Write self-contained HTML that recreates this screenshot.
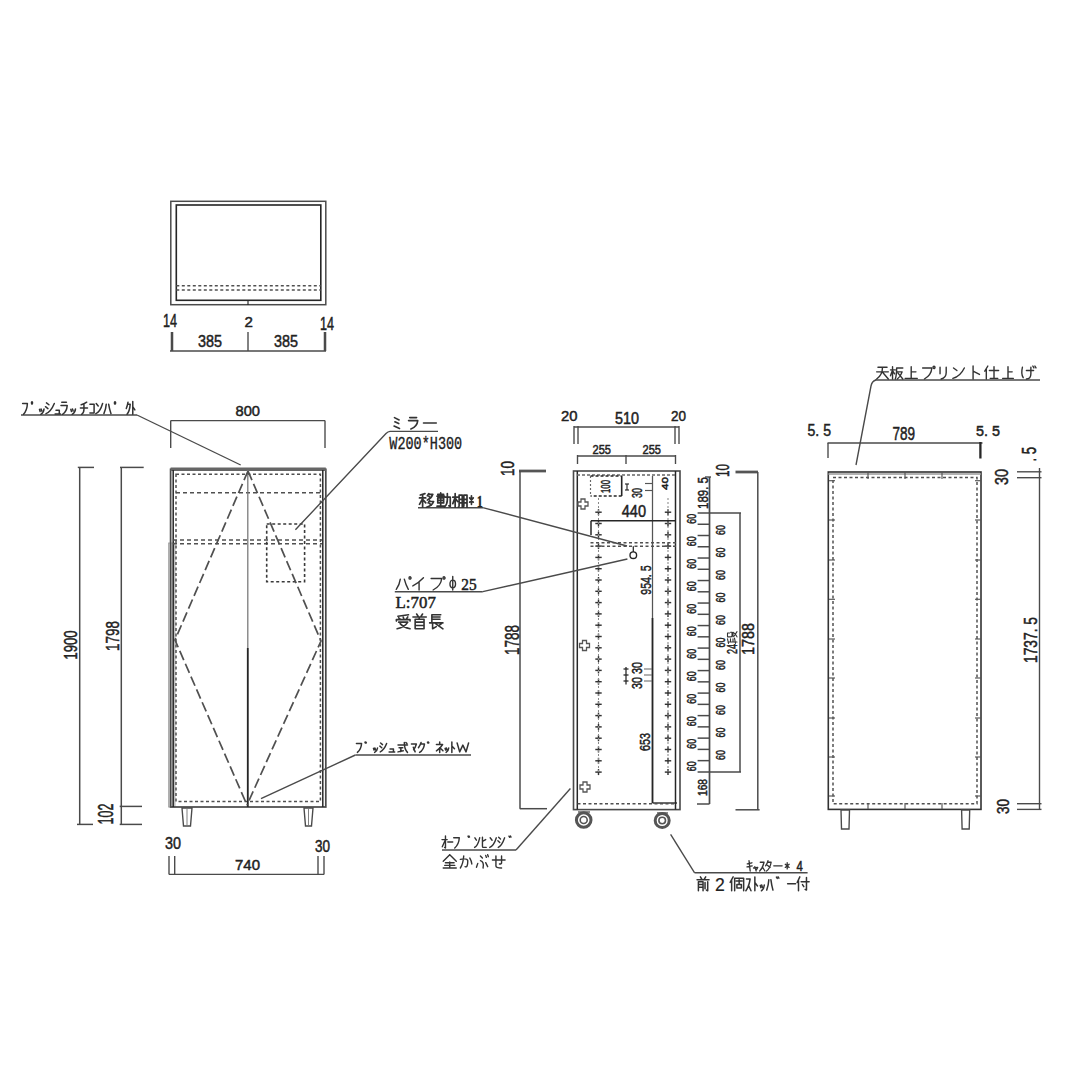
<!DOCTYPE html>
<html><head><meta charset="utf-8"><style>
html,body{margin:0;padding:0;background:#fff;}
svg{display:block;}
</style></head><body>
<svg width="1080" height="1080" viewBox="0 0 1080 1080">
<rect width="1080" height="1080" fill="#fff"/>
<rect x="170.8" y="201.3" width="155.00" height="103.40" stroke="#4a4a4a" stroke-width="1.49" fill="none"/>
<rect x="176.3" y="205" width="144.50" height="95.30" stroke="#262626" stroke-width="1.61" fill="none"/>
<line x1="176.30" y1="285.80" x2="320.80" y2="285.80" stroke="#505050" stroke-width="1.49" stroke-dasharray="3,2.5"/>
<line x1="176.30" y1="290.00" x2="320.80" y2="290.00" stroke="#505050" stroke-width="1.49" stroke-dasharray="3,2.5"/>
<line x1="248.00" y1="300.30" x2="248.00" y2="305.00" stroke="#262626" stroke-width="1.15"/>
<text x="163" y="327" font-family="Liberation Sans" font-size="18.16" font-weight="normal" fill="#222" stroke="#222" stroke-width="0.5" textLength="14.00" lengthAdjust="spacingAndGlyphs">14</text>
<text x="244.4" y="327" font-family="Liberation Sans" font-size="15.36" font-weight="normal" fill="#222" stroke="#222" stroke-width="0.5" textLength="8.40" lengthAdjust="spacingAndGlyphs">2</text>
<text x="320" y="330" font-family="Liberation Sans" font-size="18.16" font-weight="normal" fill="#222" stroke="#222" stroke-width="0.5" textLength="14.00" lengthAdjust="spacingAndGlyphs">14</text>
<text x="198" y="347" font-family="Liberation Sans" font-size="16.76" font-weight="normal" fill="#222" stroke="#222" stroke-width="0.5" textLength="24.00" lengthAdjust="spacingAndGlyphs">385</text>
<text x="274" y="347" font-family="Liberation Sans" font-size="16.76" font-weight="normal" fill="#222" stroke="#222" stroke-width="0.5" textLength="24.00" lengthAdjust="spacingAndGlyphs">385</text>
<line x1="170.00" y1="351.00" x2="326.00" y2="351.00" stroke="#4a4a4a" stroke-width="1.38"/>
<line x1="172.00" y1="332.00" x2="172.00" y2="351.00" stroke="#4a4a4a" stroke-width="2.53"/>
<line x1="248.00" y1="332.00" x2="248.00" y2="351.00" stroke="#4a4a4a" stroke-width="1.38"/>
<line x1="325.00" y1="332.00" x2="325.00" y2="351.00" stroke="#4a4a4a" stroke-width="2.53"/>
<rect x="168.5" y="543" width="6.50" height="264.00" stroke="#aaa" stroke-width="0.92" fill="#d4d4d4"/>
<rect x="170.6" y="469.3" width="155.20" height="337.70" stroke="#4a4a4a" stroke-width="1.72" fill="none"/>
<line x1="170.60" y1="469.30" x2="325.80" y2="469.30" stroke="#666" stroke-width="3.45"/>
<line x1="173.20" y1="470.00" x2="173.20" y2="807.00" stroke="#262626" stroke-width="1.49"/>
<line x1="322.80" y1="470.00" x2="322.80" y2="807.00" stroke="#262626" stroke-width="1.49"/>
<rect x="176" y="474.3" width="144.40" height="327.20" stroke="#505050" stroke-width="1.49" fill="none" stroke-dasharray="3,2.5"/>
<line x1="176.00" y1="492.80" x2="320.40" y2="492.80" stroke="#505050" stroke-width="1.49" stroke-dasharray="4,3"/>
<line x1="173.00" y1="540.00" x2="322.00" y2="540.00" stroke="#505050" stroke-width="1.49" stroke-dasharray="4,3"/>
<line x1="173.00" y1="543.70" x2="322.00" y2="543.70" stroke="#505050" stroke-width="1.49" stroke-dasharray="4,3"/>
<line x1="247.80" y1="470.00" x2="247.80" y2="648.00" stroke="#777" stroke-width="1.26"/>
<line x1="247.80" y1="648.00" x2="247.80" y2="807.00" stroke="#262626" stroke-width="1.84"/>
<rect x="266.7" y="524" width="37.90" height="57.70" stroke="#3a3a3a" stroke-width="1.61" fill="none" stroke-dasharray="3,2.5"/>
<path d="M248,471 L175,640 L247,805 M248,471 L321,641 L247,805" stroke="#505050" stroke-width="1.72" fill="none" stroke-dasharray="10,4"/>
<path d="M182,808 L192,808 L190.5,826 L183.5,826 Z" stroke="#4a4a4a" stroke-width="1.38" fill="#fff"/>
<line x1="187.00" y1="809.00" x2="187.00" y2="825.00" stroke="#777" stroke-width="0.92"/>
<path d="M304,808 L313,808 L311.5,826 L305.5,826 Z" stroke="#4a4a4a" stroke-width="1.38" fill="#fff"/>
<line x1="308.50" y1="809.00" x2="308.50" y2="825.00" stroke="#777" stroke-width="0.92"/>
<text x="235.5" y="416" font-family="Liberation Sans" font-size="14.66" font-weight="normal" fill="#222" stroke="#222" stroke-width="0.5" textLength="24.50" lengthAdjust="spacingAndGlyphs">800</text>
<line x1="170.70" y1="420.60" x2="325.00" y2="420.60" stroke="#4a4a4a" stroke-width="1.38"/>
<line x1="170.70" y1="420.60" x2="170.70" y2="448.00" stroke="#4a4a4a" stroke-width="1.38"/>
<line x1="325.00" y1="420.60" x2="325.00" y2="448.00" stroke="#4a4a4a" stroke-width="1.38"/>
<line x1="79.70" y1="467.40" x2="79.70" y2="824.40" stroke="#4a4a4a" stroke-width="1.49"/>
<line x1="77.80" y1="467.40" x2="94.00" y2="467.40" stroke="#4a4a4a" stroke-width="1.49"/>
<line x1="77.00" y1="824.40" x2="93.00" y2="824.40" stroke="#4a4a4a" stroke-width="1.49"/>
<line x1="121.30" y1="467.40" x2="121.30" y2="824.40" stroke="#4a4a4a" stroke-width="1.49"/>
<line x1="120.00" y1="467.40" x2="143.70" y2="467.40" stroke="#4a4a4a" stroke-width="1.49"/>
<line x1="119.70" y1="806.40" x2="142.00" y2="806.40" stroke="#4a4a4a" stroke-width="1.49"/>
<line x1="119.70" y1="824.40" x2="142.00" y2="824.40" stroke="#4a4a4a" stroke-width="1.49"/>
<text transform="translate(77.40,659.50) rotate(-90)" x="0" y="0" font-family="Liberation Sans" font-size="18.72" font-weight="normal" fill="#222" stroke="#222" stroke-width="0.5" textLength="29.00" lengthAdjust="spacingAndGlyphs">1900</text>
<text transform="translate(119.00,651.00) rotate(-90)" x="0" y="0" font-family="Liberation Sans" font-size="18.16" font-weight="normal" fill="#222" stroke="#222" stroke-width="0.5" textLength="30.00" lengthAdjust="spacingAndGlyphs">1798</text>
<text transform="translate(112.80,824.40) rotate(-90)" x="0" y="0" font-family="Liberation Sans" font-size="21.37" font-weight="normal" fill="#222" stroke="#222" stroke-width="0.5" textLength="20.80" lengthAdjust="spacingAndGlyphs">102</text>
<text x="165" y="849.4" font-family="Liberation Sans" font-size="17.32" font-weight="normal" fill="#222" stroke="#222" stroke-width="0.5" textLength="16.00" lengthAdjust="spacingAndGlyphs">30</text>
<text x="315" y="851.6" font-family="Liberation Sans" font-size="16.20" font-weight="normal" fill="#222" stroke="#222" stroke-width="0.5" textLength="15.00" lengthAdjust="spacingAndGlyphs">30</text>
<text x="235" y="870" font-family="Liberation Sans" font-size="15.36" font-weight="normal" fill="#222" stroke="#222" stroke-width="0.5" textLength="25.00" lengthAdjust="spacingAndGlyphs">740</text>
<line x1="169.00" y1="874.40" x2="324.00" y2="874.40" stroke="#4a4a4a" stroke-width="1.38"/>
<line x1="169.00" y1="856.00" x2="169.00" y2="874.40" stroke="#4a4a4a" stroke-width="1.38"/>
<line x1="174.70" y1="856.00" x2="174.70" y2="874.40" stroke="#4a4a4a" stroke-width="1.38"/>
<line x1="318.00" y1="856.00" x2="318.00" y2="874.40" stroke="#4a4a4a" stroke-width="1.38"/>
<line x1="324.00" y1="856.00" x2="324.00" y2="874.40" stroke="#4a4a4a" stroke-width="1.38"/>
<line x1="21.00" y1="415.00" x2="137.00" y2="415.00" stroke="#4a4a4a" stroke-width="1.38"/>
<line x1="137.00" y1="415.00" x2="240.70" y2="465.00" stroke="#4a4a4a" stroke-width="1.38"/>
<path d="M438,431.4 L390,431.4 Q388,431.6 386,433.5 L295.4,529.8" stroke="#4a4a4a" stroke-width="1.38" fill="none"/>
<text x="389.3" y="448.6" font-family="Liberation Mono" font-size="18.39" font-weight="normal" fill="#222" stroke="#222" stroke-width="0.35" textLength="72.90" lengthAdjust="spacingAndGlyphs">W200*H300</text>
<line x1="355.40" y1="755.00" x2="471.00" y2="755.00" stroke="#4a4a4a" stroke-width="1.38"/>
<line x1="355.40" y1="755.00" x2="261.00" y2="798.70" stroke="#4a4a4a" stroke-width="1.38"/>
<rect x="573.5" y="471" width="106.50" height="338.60" stroke="#4a4a4a" stroke-width="1.61" fill="none"/>
<line x1="577.30" y1="471.00" x2="577.30" y2="809.60" stroke="#262626" stroke-width="1.49"/>
<line x1="675.50" y1="471.00" x2="675.50" y2="809.60" stroke="#262626" stroke-width="1.49"/>
<line x1="577.00" y1="475.00" x2="676.00" y2="475.00" stroke="#666" stroke-width="1.26" stroke-dasharray="3,2"/>
<line x1="652.50" y1="476.00" x2="652.50" y2="618.00" stroke="#555" stroke-width="1.26"/>
<line x1="652.50" y1="618.00" x2="652.50" y2="803.00" stroke="#262626" stroke-width="1.84"/>
<line x1="652.50" y1="803.00" x2="677.00" y2="803.00" stroke="#262626" stroke-width="1.38"/>
<line x1="577.50" y1="803.70" x2="676.00" y2="803.70" stroke="#505050" stroke-width="1.38" stroke-dasharray="3,2.5"/>
<line x1="595.30" y1="512.20" x2="601.70" y2="512.20" stroke="#333" stroke-width="1.44"/>
<line x1="598.50" y1="509.20" x2="598.50" y2="515.20" stroke="#333" stroke-width="1.44"/>
<line x1="664.80" y1="512.20" x2="671.20" y2="512.20" stroke="#333" stroke-width="1.44"/>
<line x1="668.00" y1="509.20" x2="668.00" y2="515.20" stroke="#333" stroke-width="1.44"/>
<line x1="595.30" y1="523.50" x2="601.70" y2="523.50" stroke="#333" stroke-width="1.44"/>
<line x1="598.50" y1="520.50" x2="598.50" y2="526.50" stroke="#333" stroke-width="1.44"/>
<line x1="664.80" y1="523.50" x2="671.20" y2="523.50" stroke="#333" stroke-width="1.44"/>
<line x1="668.00" y1="520.50" x2="668.00" y2="526.50" stroke="#333" stroke-width="1.44"/>
<line x1="595.30" y1="534.80" x2="601.70" y2="534.80" stroke="#333" stroke-width="1.44"/>
<line x1="598.50" y1="531.80" x2="598.50" y2="537.80" stroke="#333" stroke-width="1.44"/>
<line x1="664.80" y1="534.80" x2="671.20" y2="534.80" stroke="#333" stroke-width="1.44"/>
<line x1="668.00" y1="531.80" x2="668.00" y2="537.80" stroke="#333" stroke-width="1.44"/>
<line x1="595.30" y1="546.10" x2="601.70" y2="546.10" stroke="#333" stroke-width="1.44"/>
<line x1="598.50" y1="543.10" x2="598.50" y2="549.10" stroke="#333" stroke-width="1.44"/>
<line x1="664.80" y1="546.10" x2="671.20" y2="546.10" stroke="#333" stroke-width="1.44"/>
<line x1="668.00" y1="543.10" x2="668.00" y2="549.10" stroke="#333" stroke-width="1.44"/>
<line x1="595.30" y1="557.40" x2="601.70" y2="557.40" stroke="#333" stroke-width="1.44"/>
<line x1="598.50" y1="554.40" x2="598.50" y2="560.40" stroke="#333" stroke-width="1.44"/>
<line x1="664.80" y1="557.40" x2="671.20" y2="557.40" stroke="#333" stroke-width="1.44"/>
<line x1="668.00" y1="554.40" x2="668.00" y2="560.40" stroke="#333" stroke-width="1.44"/>
<line x1="595.30" y1="568.70" x2="601.70" y2="568.70" stroke="#333" stroke-width="1.44"/>
<line x1="598.50" y1="565.70" x2="598.50" y2="571.70" stroke="#333" stroke-width="1.44"/>
<line x1="664.80" y1="568.70" x2="671.20" y2="568.70" stroke="#333" stroke-width="1.44"/>
<line x1="668.00" y1="565.70" x2="668.00" y2="571.70" stroke="#333" stroke-width="1.44"/>
<line x1="595.30" y1="580.00" x2="601.70" y2="580.00" stroke="#333" stroke-width="1.44"/>
<line x1="598.50" y1="577.00" x2="598.50" y2="583.00" stroke="#333" stroke-width="1.44"/>
<line x1="664.80" y1="580.00" x2="671.20" y2="580.00" stroke="#333" stroke-width="1.44"/>
<line x1="668.00" y1="577.00" x2="668.00" y2="583.00" stroke="#333" stroke-width="1.44"/>
<line x1="595.30" y1="591.30" x2="601.70" y2="591.30" stroke="#333" stroke-width="1.44"/>
<line x1="598.50" y1="588.30" x2="598.50" y2="594.30" stroke="#333" stroke-width="1.44"/>
<line x1="664.80" y1="591.30" x2="671.20" y2="591.30" stroke="#333" stroke-width="1.44"/>
<line x1="668.00" y1="588.30" x2="668.00" y2="594.30" stroke="#333" stroke-width="1.44"/>
<line x1="595.30" y1="602.60" x2="601.70" y2="602.60" stroke="#333" stroke-width="1.44"/>
<line x1="598.50" y1="599.60" x2="598.50" y2="605.60" stroke="#333" stroke-width="1.44"/>
<line x1="664.80" y1="602.60" x2="671.20" y2="602.60" stroke="#333" stroke-width="1.44"/>
<line x1="668.00" y1="599.60" x2="668.00" y2="605.60" stroke="#333" stroke-width="1.44"/>
<line x1="595.30" y1="613.90" x2="601.70" y2="613.90" stroke="#333" stroke-width="1.44"/>
<line x1="598.50" y1="610.90" x2="598.50" y2="616.90" stroke="#333" stroke-width="1.44"/>
<line x1="664.80" y1="613.90" x2="671.20" y2="613.90" stroke="#333" stroke-width="1.44"/>
<line x1="668.00" y1="610.90" x2="668.00" y2="616.90" stroke="#333" stroke-width="1.44"/>
<line x1="595.30" y1="625.20" x2="601.70" y2="625.20" stroke="#333" stroke-width="1.44"/>
<line x1="598.50" y1="622.20" x2="598.50" y2="628.20" stroke="#333" stroke-width="1.44"/>
<line x1="664.80" y1="625.20" x2="671.20" y2="625.20" stroke="#333" stroke-width="1.44"/>
<line x1="668.00" y1="622.20" x2="668.00" y2="628.20" stroke="#333" stroke-width="1.44"/>
<line x1="595.30" y1="636.50" x2="601.70" y2="636.50" stroke="#333" stroke-width="1.44"/>
<line x1="598.50" y1="633.50" x2="598.50" y2="639.50" stroke="#333" stroke-width="1.44"/>
<line x1="664.80" y1="636.50" x2="671.20" y2="636.50" stroke="#333" stroke-width="1.44"/>
<line x1="668.00" y1="633.50" x2="668.00" y2="639.50" stroke="#333" stroke-width="1.44"/>
<line x1="595.30" y1="647.80" x2="601.70" y2="647.80" stroke="#333" stroke-width="1.44"/>
<line x1="598.50" y1="644.80" x2="598.50" y2="650.80" stroke="#333" stroke-width="1.44"/>
<line x1="664.80" y1="647.80" x2="671.20" y2="647.80" stroke="#333" stroke-width="1.44"/>
<line x1="668.00" y1="644.80" x2="668.00" y2="650.80" stroke="#333" stroke-width="1.44"/>
<line x1="595.30" y1="659.10" x2="601.70" y2="659.10" stroke="#333" stroke-width="1.44"/>
<line x1="598.50" y1="656.10" x2="598.50" y2="662.10" stroke="#333" stroke-width="1.44"/>
<line x1="664.80" y1="659.10" x2="671.20" y2="659.10" stroke="#333" stroke-width="1.44"/>
<line x1="668.00" y1="656.10" x2="668.00" y2="662.10" stroke="#333" stroke-width="1.44"/>
<line x1="595.30" y1="670.40" x2="601.70" y2="670.40" stroke="#333" stroke-width="1.44"/>
<line x1="598.50" y1="667.40" x2="598.50" y2="673.40" stroke="#333" stroke-width="1.44"/>
<line x1="664.80" y1="670.40" x2="671.20" y2="670.40" stroke="#333" stroke-width="1.44"/>
<line x1="668.00" y1="667.40" x2="668.00" y2="673.40" stroke="#333" stroke-width="1.44"/>
<line x1="595.30" y1="681.70" x2="601.70" y2="681.70" stroke="#333" stroke-width="1.44"/>
<line x1="598.50" y1="678.70" x2="598.50" y2="684.70" stroke="#333" stroke-width="1.44"/>
<line x1="664.80" y1="681.70" x2="671.20" y2="681.70" stroke="#333" stroke-width="1.44"/>
<line x1="668.00" y1="678.70" x2="668.00" y2="684.70" stroke="#333" stroke-width="1.44"/>
<line x1="595.30" y1="693.00" x2="601.70" y2="693.00" stroke="#333" stroke-width="1.44"/>
<line x1="598.50" y1="690.00" x2="598.50" y2="696.00" stroke="#333" stroke-width="1.44"/>
<line x1="664.80" y1="693.00" x2="671.20" y2="693.00" stroke="#333" stroke-width="1.44"/>
<line x1="668.00" y1="690.00" x2="668.00" y2="696.00" stroke="#333" stroke-width="1.44"/>
<line x1="595.30" y1="704.30" x2="601.70" y2="704.30" stroke="#333" stroke-width="1.44"/>
<line x1="598.50" y1="701.30" x2="598.50" y2="707.30" stroke="#333" stroke-width="1.44"/>
<line x1="664.80" y1="704.30" x2="671.20" y2="704.30" stroke="#333" stroke-width="1.44"/>
<line x1="668.00" y1="701.30" x2="668.00" y2="707.30" stroke="#333" stroke-width="1.44"/>
<line x1="595.30" y1="715.60" x2="601.70" y2="715.60" stroke="#333" stroke-width="1.44"/>
<line x1="598.50" y1="712.60" x2="598.50" y2="718.60" stroke="#333" stroke-width="1.44"/>
<line x1="664.80" y1="715.60" x2="671.20" y2="715.60" stroke="#333" stroke-width="1.44"/>
<line x1="668.00" y1="712.60" x2="668.00" y2="718.60" stroke="#333" stroke-width="1.44"/>
<line x1="595.30" y1="726.90" x2="601.70" y2="726.90" stroke="#333" stroke-width="1.44"/>
<line x1="598.50" y1="723.90" x2="598.50" y2="729.90" stroke="#333" stroke-width="1.44"/>
<line x1="664.80" y1="726.90" x2="671.20" y2="726.90" stroke="#333" stroke-width="1.44"/>
<line x1="668.00" y1="723.90" x2="668.00" y2="729.90" stroke="#333" stroke-width="1.44"/>
<line x1="595.30" y1="738.20" x2="601.70" y2="738.20" stroke="#333" stroke-width="1.44"/>
<line x1="598.50" y1="735.20" x2="598.50" y2="741.20" stroke="#333" stroke-width="1.44"/>
<line x1="664.80" y1="738.20" x2="671.20" y2="738.20" stroke="#333" stroke-width="1.44"/>
<line x1="668.00" y1="735.20" x2="668.00" y2="741.20" stroke="#333" stroke-width="1.44"/>
<line x1="595.30" y1="749.50" x2="601.70" y2="749.50" stroke="#333" stroke-width="1.44"/>
<line x1="598.50" y1="746.50" x2="598.50" y2="752.50" stroke="#333" stroke-width="1.44"/>
<line x1="664.80" y1="749.50" x2="671.20" y2="749.50" stroke="#333" stroke-width="1.44"/>
<line x1="668.00" y1="746.50" x2="668.00" y2="752.50" stroke="#333" stroke-width="1.44"/>
<line x1="595.30" y1="760.80" x2="601.70" y2="760.80" stroke="#333" stroke-width="1.44"/>
<line x1="598.50" y1="757.80" x2="598.50" y2="763.80" stroke="#333" stroke-width="1.44"/>
<line x1="664.80" y1="760.80" x2="671.20" y2="760.80" stroke="#333" stroke-width="1.44"/>
<line x1="668.00" y1="757.80" x2="668.00" y2="763.80" stroke="#333" stroke-width="1.44"/>
<line x1="595.30" y1="772.10" x2="601.70" y2="772.10" stroke="#333" stroke-width="1.44"/>
<line x1="598.50" y1="769.10" x2="598.50" y2="775.10" stroke="#333" stroke-width="1.44"/>
<line x1="664.80" y1="772.10" x2="671.20" y2="772.10" stroke="#333" stroke-width="1.44"/>
<line x1="668.00" y1="769.10" x2="668.00" y2="775.10" stroke="#333" stroke-width="1.44"/>
<line x1="598.50" y1="498.00" x2="598.50" y2="772.00" stroke="#888" stroke-width="1.03" stroke-dasharray="2,2"/>
<line x1="668.00" y1="498.00" x2="668.00" y2="772.00" stroke="#888" stroke-width="1.03" stroke-dasharray="2,2"/>
<line x1="590.50" y1="542.80" x2="676.00" y2="542.80" stroke="#505050" stroke-width="1.49" stroke-dasharray="3,2.5"/>
<line x1="590.50" y1="546.20" x2="676.00" y2="546.20" stroke="#505050" stroke-width="1.49" stroke-dasharray="3,2.5"/>
<line x1="591.00" y1="520.80" x2="675.00" y2="520.80" stroke="#262626" stroke-width="1.49"/>
<line x1="591.00" y1="520.80" x2="591.00" y2="535.00" stroke="#262626" stroke-width="1.49"/>
<text x="621.7" y="517.3" font-family="Liberation Sans" font-size="17.18" font-weight="normal" fill="#222" stroke="#222" stroke-width="0.5" textLength="24.30" lengthAdjust="spacingAndGlyphs">440</text>
<path d="M590.5,476 L621.7,476 M621.7,496 L590.5,496" stroke="#262626" stroke-width="1.38" fill="none" stroke-dasharray="3,2"/>
<line x1="590.50" y1="476.00" x2="590.50" y2="496.00" stroke="#666" stroke-width="1.15" stroke-dasharray="2,2"/>
<line x1="621.70" y1="476.00" x2="621.70" y2="496.00" stroke="#262626" stroke-width="1.61"/>
<text transform="translate(609.60,493.00) rotate(-90)" x="0" y="0" font-family="Liberation Sans" font-size="13.41" font-weight="normal" fill="#222" stroke="#222" stroke-width="0.5" textLength="13.00" lengthAdjust="spacingAndGlyphs">100</text>
<text transform="translate(642.00,498.00) rotate(-90)" x="0" y="0" font-family="Liberation Sans" font-size="13.97" font-weight="normal" fill="#222" stroke="#222" stroke-width="0.5" textLength="10.00" lengthAdjust="spacingAndGlyphs">30</text>
<text transform="translate(668.00,490.00) rotate(-90)" x="0" y="0" font-family="Liberation Sans" font-size="9.78" font-weight="normal" fill="#222" stroke="#222" stroke-width="0.5" textLength="13.00" lengthAdjust="spacingAndGlyphs">40</text>
<line x1="627.00" y1="484.00" x2="627.00" y2="490.00" stroke="#262626" stroke-width="1.15"/>
<line x1="625.00" y1="484.00" x2="629.00" y2="484.00" stroke="#262626" stroke-width="1.15"/>
<line x1="625.00" y1="490.00" x2="629.00" y2="490.00" stroke="#262626" stroke-width="1.15"/>
<line x1="645.00" y1="483.50" x2="652.00" y2="483.50" stroke="#555" stroke-width="1.15"/>
<line x1="645.00" y1="490.50" x2="652.00" y2="490.50" stroke="#555" stroke-width="1.15"/>
<path d="M581,499 h4 v3 h3 v4 h-3 v3 h-4 v-3 h-3 v-4 h3 z" stroke="#555" stroke-width="1.26" fill="none"/>
<path d="M582.5,640.5 h4 v3 h3 v4 h-3 v3 h-4 v-3 h-3 v-4 h3 z" stroke="#555" stroke-width="1.26" fill="none"/>
<path d="M583,782 h4 v3 h3 v4 h-3 v3 h-4 v-3 h-3 v-4 h3 z" stroke="#555" stroke-width="1.26" fill="none"/>
<circle cx="633.3" cy="555.2" r="3.3" stroke="#262626" stroke-width="1.38" fill="none"/>
<line x1="633.30" y1="546.20" x2="633.30" y2="552.00" stroke="#262626" stroke-width="1.26"/>
<text transform="translate(651.00,594.70) rotate(-90)" x="0" y="0" font-family="Liberation Sans" font-size="15.36" font-weight="normal" fill="#222" stroke="#222" stroke-width="0.5" textLength="29.20" lengthAdjust="spacingAndGlyphs">954. 5</text>
<text transform="translate(642.00,674.00) rotate(-90)" x="0" y="0" font-family="Liberation Sans" font-size="13.97" font-weight="normal" fill="#222" stroke="#222" stroke-width="0.5" textLength="12.00" lengthAdjust="spacingAndGlyphs">30</text>
<text transform="translate(642.00,689.00) rotate(-90)" x="0" y="0" font-family="Liberation Sans" font-size="13.97" font-weight="normal" fill="#222" stroke="#222" stroke-width="0.5" textLength="12.00" lengthAdjust="spacingAndGlyphs">30</text>
<line x1="626.00" y1="667.00" x2="626.00" y2="684.50" stroke="#262626" stroke-width="1.26"/>
<line x1="623.50" y1="669.00" x2="628.50" y2="669.00" stroke="#262626" stroke-width="1.26"/>
<line x1="644.00" y1="669.00" x2="652.00" y2="669.00" stroke="#666" stroke-width="1.03"/>
<line x1="623.50" y1="675.00" x2="628.50" y2="675.00" stroke="#262626" stroke-width="1.26"/>
<line x1="644.00" y1="675.00" x2="652.00" y2="675.00" stroke="#666" stroke-width="1.03"/>
<line x1="623.50" y1="681.00" x2="628.50" y2="681.00" stroke="#262626" stroke-width="1.26"/>
<line x1="644.00" y1="681.00" x2="652.00" y2="681.00" stroke="#666" stroke-width="1.03"/>
<text transform="translate(650.40,751.00) rotate(-90)" x="0" y="0" font-family="Liberation Sans" font-size="14.53" font-weight="normal" fill="#222" stroke="#222" stroke-width="0.5" textLength="18.00" lengthAdjust="spacingAndGlyphs">653</text>
<circle cx="583.7" cy="820" r="7.3" stroke="#555" stroke-width="2.99" fill="none"/>
<circle cx="583.7" cy="820" r="3.5" stroke="#555" stroke-width="1.61" fill="none"/>
<line x1="578.00" y1="812.00" x2="590.00" y2="812.00" stroke="#555" stroke-width="1.38"/>
<circle cx="662.2" cy="820.5" r="7.0" stroke="#555" stroke-width="2.99" fill="none"/>
<circle cx="662.2" cy="820.5" r="3.3" stroke="#555" stroke-width="1.61" fill="none"/>
<line x1="657.00" y1="813.00" x2="668.00" y2="813.00" stroke="#555" stroke-width="1.38"/>
<text x="561" y="421" font-family="Liberation Sans" font-size="15.36" font-weight="normal" fill="#222" stroke="#222" stroke-width="0.5" textLength="16.50" lengthAdjust="spacingAndGlyphs">20</text>
<text x="615" y="424" font-family="Liberation Sans" font-size="16.06" font-weight="normal" fill="#222" stroke="#222" stroke-width="0.5" textLength="24.00" lengthAdjust="spacingAndGlyphs">510</text>
<text x="671" y="421" font-family="Liberation Sans" font-size="15.36" font-weight="normal" fill="#222" stroke="#222" stroke-width="0.5" textLength="15.00" lengthAdjust="spacingAndGlyphs">20</text>
<line x1="574.00" y1="427.00" x2="679.00" y2="427.00" stroke="#4a4a4a" stroke-width="1.38"/>
<line x1="574.00" y1="426.00" x2="574.00" y2="444.00" stroke="#4a4a4a" stroke-width="1.38"/>
<line x1="578.00" y1="426.00" x2="578.00" y2="444.00" stroke="#4a4a4a" stroke-width="1.38"/>
<line x1="675.00" y1="426.00" x2="675.00" y2="444.00" stroke="#4a4a4a" stroke-width="1.38"/>
<line x1="679.00" y1="426.00" x2="679.00" y2="444.00" stroke="#4a4a4a" stroke-width="1.38"/>
<text x="592.5" y="454" font-family="Liberation Sans" font-size="12.57" font-weight="normal" fill="#222" stroke="#222" stroke-width="0.5" textLength="18.50" lengthAdjust="spacingAndGlyphs">255</text>
<text x="642.5" y="454" font-family="Liberation Sans" font-size="12.57" font-weight="normal" fill="#222" stroke="#222" stroke-width="0.5" textLength="18.50" lengthAdjust="spacingAndGlyphs">255</text>
<line x1="577.50" y1="456.00" x2="675.50" y2="456.00" stroke="#4a4a4a" stroke-width="1.38"/>
<line x1="577.50" y1="455.00" x2="577.50" y2="464.00" stroke="#4a4a4a" stroke-width="1.38"/>
<line x1="626.00" y1="455.00" x2="626.00" y2="464.00" stroke="#4a4a4a" stroke-width="1.38"/>
<line x1="675.50" y1="455.00" x2="675.50" y2="464.00" stroke="#4a4a4a" stroke-width="1.38"/>
<text transform="translate(514.00,476.00) rotate(-90)" x="0" y="0" font-family="Liberation Sans" font-size="18.16" font-weight="normal" fill="#222" stroke="#222" stroke-width="0.5" textLength="15.00" lengthAdjust="spacingAndGlyphs">10</text>
<line x1="519.00" y1="471.00" x2="546.00" y2="471.00" stroke="#555" stroke-width="2.76"/>
<line x1="520.00" y1="471.00" x2="520.00" y2="808.70" stroke="#4a4a4a" stroke-width="1.49"/>
<line x1="519.80" y1="808.70" x2="547.00" y2="808.70" stroke="#4a4a4a" stroke-width="1.49"/>
<text transform="translate(518.50,655.00) rotate(-90)" x="0" y="0" font-family="Liberation Sans" font-size="20.25" font-weight="normal" fill="#222" stroke="#222" stroke-width="0.5" textLength="30.00" lengthAdjust="spacingAndGlyphs">1788</text>
<line x1="709.50" y1="477.00" x2="709.50" y2="804.00" stroke="#4a4a4a" stroke-width="1.72"/>
<line x1="705.00" y1="477.00" x2="711.00" y2="477.00" stroke="#4a4a4a" stroke-width="1.38"/>
<line x1="697.60" y1="513.00" x2="741.00" y2="513.00" stroke="#4a4a4a" stroke-width="1.49"/>
<line x1="740.00" y1="513.00" x2="740.00" y2="772.00" stroke="#4a4a4a" stroke-width="1.49"/>
<line x1="697.60" y1="524.26" x2="709.50" y2="524.26" stroke="#4a4a4a" stroke-width="1.49"/>
<line x1="697.60" y1="535.51" x2="709.50" y2="535.51" stroke="#4a4a4a" stroke-width="1.49"/>
<line x1="697.60" y1="546.77" x2="709.50" y2="546.77" stroke="#4a4a4a" stroke-width="1.49"/>
<line x1="697.60" y1="558.03" x2="709.50" y2="558.03" stroke="#4a4a4a" stroke-width="1.49"/>
<line x1="697.60" y1="569.28" x2="709.50" y2="569.28" stroke="#4a4a4a" stroke-width="1.49"/>
<line x1="697.60" y1="580.54" x2="709.50" y2="580.54" stroke="#4a4a4a" stroke-width="1.49"/>
<line x1="697.60" y1="591.80" x2="709.50" y2="591.80" stroke="#4a4a4a" stroke-width="1.49"/>
<line x1="697.60" y1="603.05" x2="709.50" y2="603.05" stroke="#4a4a4a" stroke-width="1.49"/>
<line x1="697.60" y1="614.31" x2="709.50" y2="614.31" stroke="#4a4a4a" stroke-width="1.49"/>
<line x1="697.60" y1="625.57" x2="709.50" y2="625.57" stroke="#4a4a4a" stroke-width="1.49"/>
<line x1="697.60" y1="636.82" x2="709.50" y2="636.82" stroke="#4a4a4a" stroke-width="1.49"/>
<line x1="697.60" y1="648.08" x2="709.50" y2="648.08" stroke="#4a4a4a" stroke-width="1.49"/>
<line x1="697.60" y1="659.33" x2="709.50" y2="659.33" stroke="#4a4a4a" stroke-width="1.49"/>
<line x1="697.60" y1="670.59" x2="709.50" y2="670.59" stroke="#4a4a4a" stroke-width="1.49"/>
<line x1="697.60" y1="681.85" x2="709.50" y2="681.85" stroke="#4a4a4a" stroke-width="1.49"/>
<line x1="697.60" y1="693.10" x2="709.50" y2="693.10" stroke="#4a4a4a" stroke-width="1.49"/>
<line x1="697.60" y1="704.36" x2="709.50" y2="704.36" stroke="#4a4a4a" stroke-width="1.49"/>
<line x1="697.60" y1="715.62" x2="709.50" y2="715.62" stroke="#4a4a4a" stroke-width="1.49"/>
<line x1="697.60" y1="726.87" x2="709.50" y2="726.87" stroke="#4a4a4a" stroke-width="1.49"/>
<line x1="697.60" y1="738.13" x2="709.50" y2="738.13" stroke="#4a4a4a" stroke-width="1.49"/>
<line x1="697.60" y1="749.39" x2="709.50" y2="749.39" stroke="#4a4a4a" stroke-width="1.49"/>
<line x1="697.60" y1="760.64" x2="709.50" y2="760.64" stroke="#4a4a4a" stroke-width="1.49"/>
<line x1="697.60" y1="771.90" x2="741.00" y2="771.90" stroke="#4a4a4a" stroke-width="1.49"/>
<line x1="697.00" y1="804.00" x2="709.50" y2="804.00" stroke="#4a4a4a" stroke-width="1.49"/>
<text transform="translate(707.80,509.00) rotate(-90)" x="0" y="0" font-family="Liberation Sans" font-size="14.25" font-weight="normal" fill="#222" stroke="#222" stroke-width="0.5" textLength="32.00" lengthAdjust="spacingAndGlyphs">189. 5</text>
<text transform="translate(696.00,523.63) rotate(-90)" x="0" y="0" font-family="Liberation Sans" font-size="12.57" font-weight="normal" fill="#222" stroke="#222" stroke-width="0.5" textLength="10.00" lengthAdjust="spacingAndGlyphs">60</text>
<text transform="translate(724.50,534.88) rotate(-90)" x="0" y="0" font-family="Liberation Sans" font-size="12.57" font-weight="normal" fill="#222" stroke="#222" stroke-width="0.5" textLength="10.00" lengthAdjust="spacingAndGlyphs">60</text>
<text transform="translate(696.00,546.14) rotate(-90)" x="0" y="0" font-family="Liberation Sans" font-size="12.57" font-weight="normal" fill="#222" stroke="#222" stroke-width="0.5" textLength="10.00" lengthAdjust="spacingAndGlyphs">60</text>
<text transform="translate(724.50,557.40) rotate(-90)" x="0" y="0" font-family="Liberation Sans" font-size="12.57" font-weight="normal" fill="#222" stroke="#222" stroke-width="0.5" textLength="10.00" lengthAdjust="spacingAndGlyphs">60</text>
<text transform="translate(696.00,568.65) rotate(-90)" x="0" y="0" font-family="Liberation Sans" font-size="12.57" font-weight="normal" fill="#222" stroke="#222" stroke-width="0.5" textLength="10.00" lengthAdjust="spacingAndGlyphs">60</text>
<text transform="translate(724.50,579.91) rotate(-90)" x="0" y="0" font-family="Liberation Sans" font-size="12.57" font-weight="normal" fill="#222" stroke="#222" stroke-width="0.5" textLength="10.00" lengthAdjust="spacingAndGlyphs">60</text>
<text transform="translate(696.00,591.17) rotate(-90)" x="0" y="0" font-family="Liberation Sans" font-size="12.57" font-weight="normal" fill="#222" stroke="#222" stroke-width="0.5" textLength="10.00" lengthAdjust="spacingAndGlyphs">60</text>
<text transform="translate(724.50,602.42) rotate(-90)" x="0" y="0" font-family="Liberation Sans" font-size="12.57" font-weight="normal" fill="#222" stroke="#222" stroke-width="0.5" textLength="10.00" lengthAdjust="spacingAndGlyphs">60</text>
<text transform="translate(696.00,613.68) rotate(-90)" x="0" y="0" font-family="Liberation Sans" font-size="12.57" font-weight="normal" fill="#222" stroke="#222" stroke-width="0.5" textLength="10.00" lengthAdjust="spacingAndGlyphs">60</text>
<text transform="translate(724.50,624.94) rotate(-90)" x="0" y="0" font-family="Liberation Sans" font-size="12.57" font-weight="normal" fill="#222" stroke="#222" stroke-width="0.5" textLength="10.00" lengthAdjust="spacingAndGlyphs">60</text>
<text transform="translate(696.00,636.19) rotate(-90)" x="0" y="0" font-family="Liberation Sans" font-size="12.57" font-weight="normal" fill="#222" stroke="#222" stroke-width="0.5" textLength="10.00" lengthAdjust="spacingAndGlyphs">60</text>
<text transform="translate(724.50,647.45) rotate(-90)" x="0" y="0" font-family="Liberation Sans" font-size="12.57" font-weight="normal" fill="#222" stroke="#222" stroke-width="0.5" textLength="10.00" lengthAdjust="spacingAndGlyphs">60</text>
<text transform="translate(696.00,658.71) rotate(-90)" x="0" y="0" font-family="Liberation Sans" font-size="12.57" font-weight="normal" fill="#222" stroke="#222" stroke-width="0.5" textLength="10.00" lengthAdjust="spacingAndGlyphs">60</text>
<text transform="translate(724.50,669.96) rotate(-90)" x="0" y="0" font-family="Liberation Sans" font-size="12.57" font-weight="normal" fill="#222" stroke="#222" stroke-width="0.5" textLength="10.00" lengthAdjust="spacingAndGlyphs">60</text>
<text transform="translate(696.00,681.22) rotate(-90)" x="0" y="0" font-family="Liberation Sans" font-size="12.57" font-weight="normal" fill="#222" stroke="#222" stroke-width="0.5" textLength="10.00" lengthAdjust="spacingAndGlyphs">60</text>
<text transform="translate(724.50,692.48) rotate(-90)" x="0" y="0" font-family="Liberation Sans" font-size="12.57" font-weight="normal" fill="#222" stroke="#222" stroke-width="0.5" textLength="10.00" lengthAdjust="spacingAndGlyphs">60</text>
<text transform="translate(696.00,703.73) rotate(-90)" x="0" y="0" font-family="Liberation Sans" font-size="12.57" font-weight="normal" fill="#222" stroke="#222" stroke-width="0.5" textLength="10.00" lengthAdjust="spacingAndGlyphs">60</text>
<text transform="translate(724.50,714.99) rotate(-90)" x="0" y="0" font-family="Liberation Sans" font-size="12.57" font-weight="normal" fill="#222" stroke="#222" stroke-width="0.5" textLength="10.00" lengthAdjust="spacingAndGlyphs">60</text>
<text transform="translate(696.00,726.25) rotate(-90)" x="0" y="0" font-family="Liberation Sans" font-size="12.57" font-weight="normal" fill="#222" stroke="#222" stroke-width="0.5" textLength="10.00" lengthAdjust="spacingAndGlyphs">60</text>
<text transform="translate(724.50,737.50) rotate(-90)" x="0" y="0" font-family="Liberation Sans" font-size="12.57" font-weight="normal" fill="#222" stroke="#222" stroke-width="0.5" textLength="10.00" lengthAdjust="spacingAndGlyphs">60</text>
<text transform="translate(696.00,748.76) rotate(-90)" x="0" y="0" font-family="Liberation Sans" font-size="12.57" font-weight="normal" fill="#222" stroke="#222" stroke-width="0.5" textLength="10.00" lengthAdjust="spacingAndGlyphs">60</text>
<text transform="translate(724.50,760.02) rotate(-90)" x="0" y="0" font-family="Liberation Sans" font-size="12.57" font-weight="normal" fill="#222" stroke="#222" stroke-width="0.5" textLength="10.00" lengthAdjust="spacingAndGlyphs">60</text>
<text transform="translate(696.00,771.27) rotate(-90)" x="0" y="0" font-family="Liberation Sans" font-size="12.57" font-weight="normal" fill="#222" stroke="#222" stroke-width="0.5" textLength="10.00" lengthAdjust="spacingAndGlyphs">60</text>
<text transform="translate(707.00,796.00) rotate(-90)" x="0" y="0" font-family="Liberation Sans" font-size="11.87" font-weight="normal" fill="#222" stroke="#222" stroke-width="0.5" textLength="17.00" lengthAdjust="spacingAndGlyphs">168</text>
<text transform="translate(737.00,654.00) rotate(-90)" x="0" y="0" font-family="Liberation Sans" font-size="13.97" font-weight="normal" fill="#222" stroke="#222" stroke-width="0.5" textLength="10.00" lengthAdjust="spacingAndGlyphs">24</text>
<path transform="translate(727.00,644.00) rotate(-90) scale(1.300,1.000)" d="M0.5,1.5 L4,0.5 M1.5,1 V10 M1.5,3.5 H4 M1.5,6 H4 M0.5,8.5 L4.5,7.5 M5.5,0.5 V4 Q5.5,5 6.5,5 H9 V3.5 M6,0.5 H8.5 V2.5 M5.5,6 H9 Q8,9 5.5,10 M6,7 L9.5,10" stroke="#333" stroke-width="1.1" fill="none" vector-effect="non-scaling-stroke" stroke-linecap="round" stroke-linejoin="round"/>
<text transform="translate(729.00,477.00) rotate(-90)" x="0" y="0" font-family="Liberation Sans" font-size="18.16" font-weight="normal" fill="#222" stroke="#222" stroke-width="0.5" textLength="13.00" lengthAdjust="spacingAndGlyphs">10</text>
<line x1="735.50" y1="472.00" x2="758.00" y2="472.00" stroke="#555" stroke-width="2.76"/>
<line x1="757.80" y1="472.00" x2="757.80" y2="810.00" stroke="#4a4a4a" stroke-width="1.49"/>
<line x1="735.50" y1="809.80" x2="759.60" y2="809.80" stroke="#4a4a4a" stroke-width="1.49"/>
<text transform="translate(754.00,655.00) rotate(-90)" x="0" y="0" font-family="Liberation Sans" font-size="16.76" font-weight="normal" fill="#222" stroke="#222" stroke-width="0.5" textLength="32.00" lengthAdjust="spacingAndGlyphs">1788</text>
<line x1="418.00" y1="507.80" x2="483.70" y2="507.80" stroke="#4a4a4a" stroke-width="1.38"/>
<line x1="483.70" y1="507.80" x2="627.00" y2="546.00" stroke="#4a4a4a" stroke-width="1.38"/>
<line x1="394.80" y1="591.70" x2="482.80" y2="591.70" stroke="#4a4a4a" stroke-width="1.38"/>
<line x1="482.80" y1="591.70" x2="627.40" y2="559.00" stroke="#4a4a4a" stroke-width="1.38"/>
<text x="395.6" y="608.4" font-family="Liberation Serif" font-size="17.42" font-weight="normal" fill="#222" stroke="#222" stroke-width="0.5" textLength="40.20" lengthAdjust="spacingAndGlyphs">L:707</text>
<line x1="442.00" y1="850.00" x2="516.00" y2="850.00" stroke="#4a4a4a" stroke-width="1.38"/>
<line x1="516.00" y1="850.00" x2="570.40" y2="788.50" stroke="#4a4a4a" stroke-width="1.38"/>
<line x1="694.60" y1="872.80" x2="807.60" y2="872.80" stroke="#4a4a4a" stroke-width="1.38"/>
<line x1="694.60" y1="872.80" x2="670.60" y2="834.30" stroke="#4a4a4a" stroke-width="1.38"/>
<rect x="828.3" y="472" width="152.70" height="337.40" stroke="#333" stroke-width="1.61" fill="none"/>
<line x1="828.30" y1="474.00" x2="981.00" y2="474.00" stroke="#999" stroke-width="1.61"/>
<rect x="833" y="477.5" width="144.00" height="326.20" stroke="#505050" stroke-width="1.49" fill="none" stroke-dasharray="3,2.5"/>
<line x1="829.00" y1="480.70" x2="835.00" y2="480.70" stroke="#555" stroke-width="1.15"/>
<line x1="975.00" y1="480.70" x2="981.00" y2="480.70" stroke="#555" stroke-width="1.15"/>
<line x1="829.00" y1="520.00" x2="835.00" y2="520.00" stroke="#555" stroke-width="1.15"/>
<line x1="975.00" y1="520.00" x2="981.00" y2="520.00" stroke="#555" stroke-width="1.15"/>
<line x1="829.00" y1="560.00" x2="835.00" y2="560.00" stroke="#555" stroke-width="1.15"/>
<line x1="975.00" y1="560.00" x2="981.00" y2="560.00" stroke="#555" stroke-width="1.15"/>
<line x1="829.00" y1="599.30" x2="835.00" y2="599.30" stroke="#555" stroke-width="1.15"/>
<line x1="975.00" y1="599.30" x2="981.00" y2="599.30" stroke="#555" stroke-width="1.15"/>
<line x1="829.00" y1="639.00" x2="835.00" y2="639.00" stroke="#555" stroke-width="1.15"/>
<line x1="975.00" y1="639.00" x2="981.00" y2="639.00" stroke="#555" stroke-width="1.15"/>
<line x1="829.00" y1="678.00" x2="835.00" y2="678.00" stroke="#555" stroke-width="1.15"/>
<line x1="975.00" y1="678.00" x2="981.00" y2="678.00" stroke="#555" stroke-width="1.15"/>
<line x1="829.00" y1="718.00" x2="835.00" y2="718.00" stroke="#555" stroke-width="1.15"/>
<line x1="975.00" y1="718.00" x2="981.00" y2="718.00" stroke="#555" stroke-width="1.15"/>
<line x1="829.00" y1="757.00" x2="835.00" y2="757.00" stroke="#555" stroke-width="1.15"/>
<line x1="975.00" y1="757.00" x2="981.00" y2="757.00" stroke="#555" stroke-width="1.15"/>
<line x1="829.00" y1="796.00" x2="835.00" y2="796.00" stroke="#555" stroke-width="1.15"/>
<line x1="975.00" y1="796.00" x2="981.00" y2="796.00" stroke="#555" stroke-width="1.15"/>
<line x1="868.00" y1="472.00" x2="868.00" y2="479.00" stroke="#555" stroke-width="1.15"/>
<line x1="868.00" y1="803.00" x2="868.00" y2="809.00" stroke="#555" stroke-width="1.15"/>
<line x1="905.00" y1="472.00" x2="905.00" y2="479.00" stroke="#555" stroke-width="1.15"/>
<line x1="905.00" y1="803.00" x2="905.00" y2="809.00" stroke="#555" stroke-width="1.15"/>
<line x1="942.00" y1="472.00" x2="942.00" y2="479.00" stroke="#555" stroke-width="1.15"/>
<line x1="942.00" y1="803.00" x2="942.00" y2="809.00" stroke="#555" stroke-width="1.15"/>
<path d="M841,810 L849.5,810 L849,829 L841.5,829 Z" stroke="#4a4a4a" stroke-width="1.38" fill="#fff"/>
<path d="M961.6,810 L969.7,810 L969.2,829 L962.1,829 Z" stroke="#4a4a4a" stroke-width="1.38" fill="#fff"/>
<text x="807.5" y="436" font-family="Liberation Sans" font-size="16.76" font-weight="normal" fill="#222" stroke="#222" stroke-width="0.5" textLength="23.50" lengthAdjust="spacingAndGlyphs">5. 5</text>
<text x="892.5" y="440" font-family="Liberation Sans" font-size="17.46" font-weight="normal" fill="#222" stroke="#222" stroke-width="0.5" textLength="22.50" lengthAdjust="spacingAndGlyphs">789</text>
<text x="976" y="436" font-family="Liberation Sans" font-size="15.36" font-weight="normal" fill="#222" stroke="#222" stroke-width="0.5" textLength="24.00" lengthAdjust="spacingAndGlyphs">5. 5</text>
<line x1="827.50" y1="443.00" x2="982.50" y2="443.00" stroke="#4a4a4a" stroke-width="1.38"/>
<line x1="828.00" y1="443.00" x2="828.00" y2="458.00" stroke="#4a4a4a" stroke-width="1.38"/>
<line x1="980.40" y1="442.00" x2="980.40" y2="458.50" stroke="#262626" stroke-width="2.30"/>
<line x1="1039.50" y1="468.00" x2="1039.50" y2="810.00" stroke="#4a4a4a" stroke-width="1.38"/>
<line x1="1017.00" y1="471.80" x2="1041.50" y2="471.80" stroke="#4a4a4a" stroke-width="1.38"/>
<line x1="1017.00" y1="477.70" x2="1041.50" y2="477.70" stroke="#4a4a4a" stroke-width="1.38"/>
<line x1="1017.00" y1="803.70" x2="1041.50" y2="803.70" stroke="#4a4a4a" stroke-width="1.38"/>
<line x1="1017.00" y1="809.40" x2="1041.50" y2="809.40" stroke="#4a4a4a" stroke-width="1.38"/>
<text transform="translate(1036.00,461.60) rotate(-90)" x="0" y="0" font-family="Liberation Sans" font-size="20.95" font-weight="normal" fill="#222" stroke="#222" stroke-width="0.5" textLength="14.60" lengthAdjust="spacingAndGlyphs">. 5</text>
<text transform="translate(1008.40,485.00) rotate(-90)" x="0" y="0" font-family="Liberation Sans" font-size="18.72" font-weight="normal" fill="#222" stroke="#222" stroke-width="0.5" textLength="16.00" lengthAdjust="spacingAndGlyphs">30</text>
<text transform="translate(1009.00,814.00) rotate(-90)" x="0" y="0" font-family="Liberation Sans" font-size="16.06" font-weight="normal" fill="#222" stroke="#222" stroke-width="0.5" textLength="15.00" lengthAdjust="spacingAndGlyphs">30</text>
<text transform="translate(1037.00,663.00) rotate(-90)" x="0" y="0" font-family="Liberation Sans" font-size="18.58" font-weight="normal" fill="#222" stroke="#222" stroke-width="0.5" textLength="46.00" lengthAdjust="spacingAndGlyphs">1737. 5</text>
<line x1="875.00" y1="380.00" x2="1040.00" y2="380.00" stroke="#4a4a4a" stroke-width="1.38"/>
<path d="M876,380 Q872,381 871,386 L856,465" stroke="#4a4a4a" stroke-width="1.38" fill="none"/>
<path transform="translate(22.00,401.60) scale(0.600,1.270)" d="M1,1.5 H9 Q8.5,7 2.5,10" stroke="#333" stroke-width="1.5" fill="none" vector-effect="non-scaling-stroke" stroke-linecap="round" stroke-linejoin="round"/>
<path transform="translate(31.00,401.60) scale(0.200,0.444)" d="M5,3 m-2.5,0 a2.5,2.5 0 1,0 5,0 a2.5,2.5 0 1,0 -5,0" stroke="#333" stroke-width="1.5" fill="none" vector-effect="non-scaling-stroke" stroke-linecap="round" stroke-linejoin="round"/>
<path transform="translate(38.50,406.05) scale(0.650,0.825)" d="M1.5,4 L2.5,6.5 M4,3.5 L5,6 M8.5,3.5 Q8,8 3.5,10" stroke="#333" stroke-width="1.5" fill="none" vector-effect="non-scaling-stroke" stroke-linecap="round" stroke-linejoin="round"/>
<path transform="translate(45.00,401.60) scale(0.980,1.270)" d="M1.5,1 L4,2.5 M0.5,4 L3,5.5 M1,9.5 Q6,8 9.5,1.5" stroke="#333" stroke-width="1.5" fill="none" vector-effect="non-scaling-stroke" stroke-linecap="round" stroke-linejoin="round"/>
<path transform="translate(54.80,406.05) scale(0.600,0.825)" d="M2,5 H7.5 V9.5 M0.5,9.5 H9.5" stroke="#333" stroke-width="1.5" fill="none" vector-effect="non-scaling-stroke" stroke-linecap="round" stroke-linejoin="round"/>
<path transform="translate(60.20,401.60) scale(0.780,1.270)" d="M2,0.5 H8 M1,3 H9 Q8.5,8 3,10" stroke="#333" stroke-width="1.5" fill="none" vector-effect="non-scaling-stroke" stroke-linecap="round" stroke-linejoin="round"/>
<path transform="translate(69.80,406.05) scale(0.670,0.825)" d="M1.5,4 L2.5,6.5 M4,3.5 L5,6 M8.5,3.5 Q8,8 3.5,10" stroke="#333" stroke-width="1.5" fill="none" vector-effect="non-scaling-stroke" stroke-linecap="round" stroke-linejoin="round"/>
<path transform="translate(80.00,401.60) scale(0.790,1.270)" d="M8.5,0.5 Q5,2 1.5,2.5 M0.5,5 H9.5 M5,2.2 V6 Q5,9 2,10" stroke="#333" stroke-width="1.5" fill="none" vector-effect="non-scaling-stroke" stroke-linecap="round" stroke-linejoin="round"/>
<path transform="translate(89.00,401.60) scale(0.600,1.270)" d="M1.5,2 H8.5 V9 H1.5" stroke="#333" stroke-width="1.5" fill="none" vector-effect="non-scaling-stroke" stroke-linecap="round" stroke-linejoin="round"/>
<path transform="translate(95.00,401.60) scale(0.800,1.270)" d="M1.5,1.5 L4,3.5 M1,9.5 Q6.5,8 9.5,1.5" stroke="#333" stroke-width="1.5" fill="none" vector-effect="non-scaling-stroke" stroke-linecap="round" stroke-linejoin="round"/>
<path transform="translate(103.50,401.60) scale(0.790,1.270)" d="M3.5,2 Q3,6 0.5,9.5 M6.5,2 Q7.5,6 9.5,9.5" stroke="#333" stroke-width="1.5" fill="none" vector-effect="non-scaling-stroke" stroke-linecap="round" stroke-linejoin="round"/>
<path transform="translate(113.80,401.60) scale(0.240,0.444)" d="M5,3 m-2.5,0 a2.5,2.5 0 1,0 5,0 a2.5,2.5 0 1,0 -5,0" stroke="#333" stroke-width="1.5" fill="none" vector-effect="non-scaling-stroke" stroke-linecap="round" stroke-linejoin="round"/>
<path transform="translate(125.80,401.60) scale(0.490,1.270)" d="M4.5,0.5 Q3.5,3 1,5.5 M4,2 H9 Q8,7.5 2.5,10" stroke="#333" stroke-width="1.5" fill="none" vector-effect="non-scaling-stroke" stroke-linecap="round" stroke-linejoin="round"/>
<path transform="translate(131.30,401.60) scale(0.420,1.270)" d="M3.5,0 V10 M3.5,4 L8.5,6.5" stroke="#333" stroke-width="1.5" fill="none" vector-effect="non-scaling-stroke" stroke-linecap="round" stroke-linejoin="round"/>
<path transform="translate(355.80,742.00) scale(0.640,1.040)" d="M1,1.5 H9 Q8.5,7 2.5,10" stroke="#333" stroke-width="1.5" fill="none" vector-effect="non-scaling-stroke" stroke-linecap="round" stroke-linejoin="round"/>
<path transform="translate(364.50,742.00) scale(0.230,0.364)" d="M2,0.5 L4,3 M6,0 L8,2.5" stroke="#333" stroke-width="1.5" fill="none" vector-effect="non-scaling-stroke" stroke-linecap="round" stroke-linejoin="round"/>
<path transform="translate(372.60,745.64) scale(0.580,0.676)" d="M1.5,4 L2.5,6.5 M4,3.5 L5,6 M8.5,3.5 Q8,8 3.5,10" stroke="#333" stroke-width="1.5" fill="none" vector-effect="non-scaling-stroke" stroke-linecap="round" stroke-linejoin="round"/>
<path transform="translate(379.50,742.00) scale(0.750,1.040)" d="M1.5,1 L4,2.5 M0.5,4 L3,5.5 M1,9.5 Q6,8 9.5,1.5" stroke="#333" stroke-width="1.5" fill="none" vector-effect="non-scaling-stroke" stroke-linecap="round" stroke-linejoin="round"/>
<path transform="translate(388.80,745.64) scale(0.620,0.676)" d="M2,5 H7.5 V9.5 M0.5,9.5 H9.5" stroke="#333" stroke-width="1.5" fill="none" vector-effect="non-scaling-stroke" stroke-linecap="round" stroke-linejoin="round"/>
<path transform="translate(397.50,742.00) scale(1.050,1.040)" d="M0.5,3 H9.5 M1.5,5.5 H5 M3.2,5.5 V9.2 M0.5,9.5 L5.5,8.5 M6.5,0.5 Q6.5,7 9.5,10 M8,0.5 L9,1.5" stroke="#333" stroke-width="1.5" fill="none" vector-effect="non-scaling-stroke" stroke-linecap="round" stroke-linejoin="round"/>
<path transform="translate(410.80,742.00) scale(0.620,1.040)" d="M1,2 H9 Q7,6 4.5,7.5 M4,5 L7,9.5" stroke="#333" stroke-width="1.5" fill="none" vector-effect="non-scaling-stroke" stroke-linecap="round" stroke-linejoin="round"/>
<path transform="translate(417.70,742.00) scale(0.750,1.040)" d="M4.5,0.5 Q3.5,3 1,5.5 M4,2 H9 Q8,7.5 2.5,10" stroke="#333" stroke-width="1.5" fill="none" vector-effect="non-scaling-stroke" stroke-linecap="round" stroke-linejoin="round"/>
<path transform="translate(427.00,742.00) scale(0.230,0.364)" d="M2,0.5 L4,3 M6,0 L8,2.5" stroke="#333" stroke-width="1.5" fill="none" vector-effect="non-scaling-stroke" stroke-linecap="round" stroke-linejoin="round"/>
<path transform="translate(435.60,742.00) scale(0.820,1.040)" d="M5,0 V2 M1,2.5 H8.5 Q6,6 1,8.5 M5,5.5 V10 M6.5,6.5 L9,8.5" stroke="#333" stroke-width="1.5" fill="none" vector-effect="non-scaling-stroke" stroke-linecap="round" stroke-linejoin="round"/>
<path transform="translate(444.30,745.64) scale(0.520,0.676)" d="M1.5,4 L2.5,6.5 M4,3.5 L5,6 M8.5,3.5 Q8,8 3.5,10" stroke="#333" stroke-width="1.5" fill="none" vector-effect="non-scaling-stroke" stroke-linecap="round" stroke-linejoin="round"/>
<path transform="translate(450.00,742.00) scale(0.530,1.040)" d="M3.5,0 V10 M3.5,4 L8.5,6.5" stroke="#333" stroke-width="1.5" fill="none" vector-effect="non-scaling-stroke" stroke-linecap="round" stroke-linejoin="round"/>
<path transform="translate(456.50,742.00) scale(1.270,1.040)" d="M0.5,1 L2.5,9.5 L5,3 L7.5,9.5 L9.5,1" stroke="#333" stroke-width="1.5" fill="none" vector-effect="non-scaling-stroke" stroke-linecap="round" stroke-linejoin="round"/>
<path transform="translate(392.90,417.00) scale(0.780,1.200)" d="M2,0.5 L8,2.5 M2.5,4 L7.5,5.5 M1.5,7.5 L8.5,9.5" stroke="#333" stroke-width="1.6" fill="none" vector-effect="non-scaling-stroke" stroke-linecap="round" stroke-linejoin="round"/>
<path transform="translate(407.40,417.00) scale(1.150,1.200)" d="M2,0.5 H8 M1,3 H9 Q8.5,8 3,10" stroke="#333" stroke-width="1.6" fill="none" vector-effect="non-scaling-stroke" stroke-linecap="round" stroke-linejoin="round"/>
<path transform="translate(422.80,417.00) scale(1.420,1.200)" d="M0.5,5 H9.5" stroke="#333" stroke-width="1.6" fill="none" vector-effect="non-scaling-stroke" stroke-linecap="round" stroke-linejoin="round"/>
<path transform="translate(418.70,492.90) scale(1.570,1.430)" d="M1,1.5 L4,0.5 M0.5,3.5 H4.5 M2.5,1 V10 M2.5,4 L0.5,8 M2.5,4.5 L4.5,7 M6.5,0.5 L5.5,2 M6,1 H9 Q8,4 5.5,5 M6.5,2.5 L7.5,3.5 M7,5.5 L6,7 M6.5,6 H9.5 Q8.5,9 5,10 M7,7.5 L8,8.5" stroke="#333" stroke-width="1.7" fill="none" vector-effect="non-scaling-stroke" stroke-linecap="round" stroke-linejoin="round"/>
<path transform="translate(436.30,492.90) scale(1.470,1.430)" d="M1,1 H5 M3,0 V9.5 M0.5,2.3 H5.5 M1,3.5 H5 V7 H1 Z M1,5.2 H5 M0.5,9.3 H5.5 M6,3 H9.5 V9.5 L8.5,9 M7.5,0.5 V5 Q7.5,8 5.5,10" stroke="#333" stroke-width="1.7" fill="none" vector-effect="non-scaling-stroke" stroke-linecap="round" stroke-linejoin="round"/>
<path transform="translate(452.00,492.90) scale(1.580,1.430)" d="M0.5,3 H4 M2,0.5 V10 M2,3 L0.5,7.5 M2,3.5 L3.5,6 M4.5,1.5 V9 Q4.5,10 4,10 M4.5,1.5 H6.5 V10 M4.5,4.5 H6.5 M4.5,7 H6.5 M7.5,1.5 V9 Q7.5,10 7,10 M7.5,1.5 H9.5 V10 M7.5,4.5 H9.5 M7.5,7 H9.5" stroke="#333" stroke-width="1.7" fill="none" vector-effect="non-scaling-stroke" stroke-linecap="round" stroke-linejoin="round"/>
<path transform="translate(468.20,492.90) scale(0.650,1.430)" d="M5,2 V8 M2.2,3.5 L7.8,6.5 M2.2,6.5 L7.8,3.5" stroke="#333" stroke-width="1.7" fill="none" vector-effect="non-scaling-stroke" stroke-linecap="round" stroke-linejoin="round"/>
<text x="477" y="506.5" font-family="Liberation Serif" font-size="16.91" font-weight="bold" fill="#222" stroke="#222" stroke-width="0.5" textLength="5.60" lengthAdjust="spacingAndGlyphs">1</text>
<path transform="translate(395.60,576.50) scale(1.340,1.350)" d="M3.5,2 Q3,6 0.5,9.5 M6.5,2 Q7.5,6 9.5,9.5" stroke="#333" stroke-width="1.4" fill="none" vector-effect="non-scaling-stroke" stroke-linecap="round" stroke-linejoin="round"/>
<path transform="translate(408.00,576.50) scale(0.400,0.473)" d="M5,3 m-2.5,0 a2.5,2.5 0 1,0 5,0 a2.5,2.5 0 1,0 -5,0" stroke="#333" stroke-width="1.4" fill="none" vector-effect="non-scaling-stroke" stroke-linecap="round" stroke-linejoin="round"/>
<path transform="translate(412.20,576.50) scale(1.250,1.350)" d="M9,1 Q5,5 0.5,7 M5.5,4 V10" stroke="#333" stroke-width="1.4" fill="none" vector-effect="non-scaling-stroke" stroke-linecap="round" stroke-linejoin="round"/>
<path transform="translate(429.80,576.50) scale(1.320,1.350)" d="M1,1.5 H9 Q8.5,7 2.5,10" stroke="#333" stroke-width="1.4" fill="none" vector-effect="non-scaling-stroke" stroke-linecap="round" stroke-linejoin="round"/>
<path transform="translate(442.00,576.50) scale(0.400,0.473)" d="M5,3 m-2.5,0 a2.5,2.5 0 1,0 5,0 a2.5,2.5 0 1,0 -5,0" stroke="#333" stroke-width="1.4" fill="none" vector-effect="non-scaling-stroke" stroke-linecap="round" stroke-linejoin="round"/>
<path transform="translate(448.80,576.50) scale(0.790,1.350)" d="M5,0 V10 M5,3 m-3.5,0 M1.5,5.5 a3.5,2.8 0 1,0 7,0 a3.5,2.8 0 1,0 -7,0" stroke="#333" stroke-width="1.4" fill="none" vector-effect="non-scaling-stroke" stroke-linecap="round" stroke-linejoin="round"/>
<text x="461.3" y="590" font-family="Liberation Serif" font-size="16.18" font-weight="normal" fill="#222" stroke="#222" stroke-width="0.5" textLength="15.30" lengthAdjust="spacingAndGlyphs">25</text>
<path transform="translate(395.60,614.00) scale(1.520,1.480)" d="M8.5,0.5 L1.5,1.5 M2,2.5 L3,3.5 M5,2 L5.5,3.5 M8,2 L7,3.5 M0.5,4.8 V3.8 H9.5 V4.8 M2,5.5 H8 Q6,9 1,10 M3,6.5 Q5,9 9.5,10" stroke="#333" stroke-width="1.6" fill="none" vector-effect="non-scaling-stroke" stroke-linecap="round" stroke-linejoin="round"/>
<path transform="translate(412.20,614.00) scale(1.480,1.480)" d="M3,0 L4,1.5 M7,0 L6,1.5 M0.5,2 H9.5 M5,2 L4.5,3.5 M2,3.5 H8 V10 H2 Z M2,5.5 H8 M2,7.8 H8" stroke="#333" stroke-width="1.6" fill="none" vector-effect="non-scaling-stroke" stroke-linecap="round" stroke-linejoin="round"/>
<path transform="translate(428.90,614.00) scale(1.480,1.480)" d="M2,0.5 V6 M2,0.5 H8 M2,2 H7.5 M2,3.5 H7.5 M0.5,6 H9.5 M2.5,6 V10 L5,8.5 M4.5,6.5 L9.5,10 M8.5,6.5 L6.5,8" stroke="#333" stroke-width="1.6" fill="none" vector-effect="non-scaling-stroke" stroke-linecap="round" stroke-linejoin="round"/>
<path transform="translate(441.70,836.00) scale(0.580,1.200)" d="M0.5,3 H9.5 M6.5,0 V10 L5,9.5 M6,3.5 L1,9" stroke="#333" stroke-width="1.4" fill="none" vector-effect="non-scaling-stroke" stroke-linecap="round" stroke-linejoin="round"/>
<path transform="translate(447.50,836.00) scale(0.550,1.200)" d="M0.5,5 H9.5" stroke="#333" stroke-width="1.4" fill="none" vector-effect="non-scaling-stroke" stroke-linecap="round" stroke-linejoin="round"/>
<path transform="translate(453.00,836.00) scale(0.700,1.200)" d="M1,1.5 H9 Q8.5,7 2.5,10" stroke="#333" stroke-width="1.4" fill="none" vector-effect="non-scaling-stroke" stroke-linecap="round" stroke-linejoin="round"/>
<path transform="translate(467.50,836.00) scale(0.250,0.420)" d="M2,0.5 L4,3 M6,0 L8,2.5" stroke="#333" stroke-width="1.4" fill="none" vector-effect="non-scaling-stroke" stroke-linecap="round" stroke-linejoin="round"/>
<path transform="translate(474.00,836.00) scale(0.600,1.200)" d="M1.5,1.5 L4,3.5 M1,9.5 Q6.5,8 9.5,1.5" stroke="#333" stroke-width="1.4" fill="none" vector-effect="non-scaling-stroke" stroke-linecap="round" stroke-linejoin="round"/>
<path transform="translate(481.70,836.00) scale(0.500,1.200)" d="M1.5,1 V8.5 Q1.5,9.5 3,9.5 H9 M1.5,4.5 L8,3" stroke="#333" stroke-width="1.4" fill="none" vector-effect="non-scaling-stroke" stroke-linecap="round" stroke-linejoin="round"/>
<path transform="translate(489.00,836.00) scale(0.770,1.200)" d="M1.5,1.5 L4,3.5 M1,9.5 Q6.5,8 9.5,1.5" stroke="#333" stroke-width="1.4" fill="none" vector-effect="non-scaling-stroke" stroke-linecap="round" stroke-linejoin="round"/>
<path transform="translate(497.50,836.00) scale(0.750,1.200)" d="M1.5,1 L4,2.5 M0.5,4 L3,5.5 M1,9.5 Q6,8 9.5,1.5" stroke="#333" stroke-width="1.4" fill="none" vector-effect="non-scaling-stroke" stroke-linecap="round" stroke-linejoin="round"/>
<path transform="translate(508.30,836.00) scale(0.340,0.420)" d="M2,0.5 L4,3 M6,0 L8,2.5" stroke="#333" stroke-width="1.4" fill="none" vector-effect="non-scaling-stroke" stroke-linecap="round" stroke-linejoin="round"/>
<path transform="translate(442.50,854.70) scale(1.450,1.330)" d="M5,0 L0.5,5 M5,0 L9.5,5 M2,6 H8 M1.5,8 H8.5 M0.5,10 H9.5 M5,5.5 V10" stroke="#333" stroke-width="1.4" fill="none" vector-effect="non-scaling-stroke" stroke-linecap="round" stroke-linejoin="round"/>
<path transform="translate(459.00,854.70) scale(1.350,1.330)" d="M1,3.5 Q6,2.5 6.5,4.5 Q6.5,10 4.5,9 M3.5,1 Q3,7 1,10 M8,2.5 Q9.5,5 9.5,7" stroke="#333" stroke-width="1.4" fill="none" vector-effect="non-scaling-stroke" stroke-linecap="round" stroke-linejoin="round"/>
<path transform="translate(475.80,854.70) scale(1.320,1.330)" d="M3.5,1 L5,2.5 M3.5,4.5 Q6.5,5.5 5.5,10 M1.5,6.5 L0.5,9.5 M7.5,6 L9,9 M7.5,0.5 L8,2 M9,0 L9.5,1.5" stroke="#333" stroke-width="1.4" fill="none" vector-effect="non-scaling-stroke" stroke-linecap="round" stroke-linejoin="round"/>
<path transform="translate(491.70,854.70) scale(1.410,1.330)" d="M0.5,4 H9.5 M3,1 V8.5 Q3,10 7,10 M7,1 V6 Q7,7 5.5,7" stroke="#333" stroke-width="1.4" fill="none" vector-effect="non-scaling-stroke" stroke-linecap="round" stroke-linejoin="round"/>
<path transform="translate(746.70,860.70) scale(0.580,1.030)" d="M1,3 L9,2 M0.5,6 L9.5,5 M4,0 L6,10" stroke="#333" stroke-width="1.3" fill="none" vector-effect="non-scaling-stroke" stroke-linecap="round" stroke-linejoin="round"/>
<path transform="translate(753.00,864.31) scale(0.530,0.669)" d="M1,5.5 L9,4.5 Q8,6.5 7,7.5 M3.5,3.5 L6,10" stroke="#333" stroke-width="1.3" fill="none" vector-effect="non-scaling-stroke" stroke-linecap="round" stroke-linejoin="round"/>
<path transform="translate(759.40,860.70) scale(0.580,1.030)" d="M1.5,1.5 H8 Q6,7 0.5,10 M5,6 L9.5,10" stroke="#333" stroke-width="1.3" fill="none" vector-effect="non-scaling-stroke" stroke-linecap="round" stroke-linejoin="round"/>
<path transform="translate(765.20,860.70) scale(0.700,1.030)" d="M4,0 Q3,3 0.5,5 M3.5,1.5 H8.5 Q7,7.5 2,10 M3,4.5 L7,6.5" stroke="#333" stroke-width="1.3" fill="none" vector-effect="non-scaling-stroke" stroke-linecap="round" stroke-linejoin="round"/>
<path transform="translate(773.30,860.70) scale(0.930,1.030)" d="M0.5,5 H9.5" stroke="#333" stroke-width="1.3" fill="none" vector-effect="non-scaling-stroke" stroke-linecap="round" stroke-linejoin="round"/>
<path transform="translate(783.70,860.70) scale(0.700,1.030)" d="M5,2 V8 M2.2,3.5 L7.8,6.5 M2.2,6.5 L7.8,3.5" stroke="#333" stroke-width="1.3" fill="none" vector-effect="non-scaling-stroke" stroke-linecap="round" stroke-linejoin="round"/>
<text x="796.5" y="871" font-family="Liberation Sans" font-size="13.97" font-weight="normal" fill="#222" stroke="#222" stroke-width="0.5" textLength="6.30" lengthAdjust="spacingAndGlyphs">4</text>
<path transform="translate(696.40,876.90) scale(1.330,1.390)" d="M3,0 L4,1.5 M7,0 L6,1.5 M0.5,2 H9.5 M1.5,3.5 H5 V10 M1.5,3.5 V10 M1.5,5.5 H5 M1.5,7.5 H5 M6.5,4 V8.5 M8.5,3.5 V10 L7.5,9.5" stroke="#333" stroke-width="1.5" fill="none" vector-effect="non-scaling-stroke" stroke-linecap="round" stroke-linejoin="round"/>
<path transform="translate(729.40,876.90) scale(1.500,1.390)" d="M2.5,0 L0.5,4 M1.5,2.5 V10 M3.5,1 H9.5 V10 M3.5,1 V10 M4.5,3 H8.5 M6.5,2 V5.5 M5,5.5 H8 V8 H5 Z" stroke="#333" stroke-width="1.5" fill="none" vector-effect="non-scaling-stroke" stroke-linecap="round" stroke-linejoin="round"/>
<path transform="translate(745.60,876.90) scale(0.570,1.390)" d="M1.5,1.5 H8 Q6,7 0.5,10 M5,6 L9.5,10" stroke="#333" stroke-width="1.5" fill="none" vector-effect="non-scaling-stroke" stroke-linecap="round" stroke-linejoin="round"/>
<path transform="translate(753.00,876.90) scale(0.530,1.390)" d="M3.5,0 V10 M3.5,4 L8.5,6.5" stroke="#333" stroke-width="1.5" fill="none" vector-effect="non-scaling-stroke" stroke-linecap="round" stroke-linejoin="round"/>
<path transform="translate(759.40,881.76) scale(0.580,0.903)" d="M1.5,4 L2.5,6.5 M4,3.5 L5,6 M8.5,3.5 Q8,8 3.5,10" stroke="#333" stroke-width="1.5" fill="none" vector-effect="non-scaling-stroke" stroke-linecap="round" stroke-linejoin="round"/>
<path transform="translate(766.40,876.90) scale(0.690,1.390)" d="M3.5,2 Q3,6 0.5,9.5 M6.5,2 Q7.5,6 9.5,9.5" stroke="#333" stroke-width="1.5" fill="none" vector-effect="non-scaling-stroke" stroke-linecap="round" stroke-linejoin="round"/>
<path transform="translate(775.60,876.90) scale(0.410,0.487)" d="M2,0.5 L4,3 M6,0 L8,2.5" stroke="#333" stroke-width="1.5" fill="none" vector-effect="non-scaling-stroke" stroke-linecap="round" stroke-linejoin="round"/>
<path transform="translate(787.20,876.90) scale(0.880,1.390)" d="M0.5,5 H9.5" stroke="#333" stroke-width="1.5" fill="none" vector-effect="non-scaling-stroke" stroke-linecap="round" stroke-linejoin="round"/>
<path transform="translate(796.50,876.90) scale(1.330,1.390)" d="M2.5,0 L0.5,4 M1.5,2.5 V10 M3.5,3.5 H9.5 M7.5,0.5 V9.5 L6.5,9 M4.5,5.5 L5.5,7" stroke="#333" stroke-width="1.5" fill="none" vector-effect="non-scaling-stroke" stroke-linecap="round" stroke-linejoin="round"/>
<text x="714.9" y="890.8" font-family="Liberation Sans" font-size="18.58" font-weight="normal" fill="#222" stroke="#222" stroke-width="0.2" textLength="9.80" lengthAdjust="spacingAndGlyphs">2</text>
<path transform="translate(876.00,366.00) scale(1.300,1.300)" d="M1.5,1 H8.5 M0.5,4.5 H9.5 M5,1 Q5,7 0.5,10 M5.2,5 L9.5,10" stroke="#333" stroke-width="1.4" fill="none" vector-effect="non-scaling-stroke" stroke-linecap="round" stroke-linejoin="round"/>
<path transform="translate(889.80,366.00) scale(1.370,1.300)" d="M0.5,3 H4 M2,0.5 V10 M2,3 L0.5,7.5 M2,3.5 L3.5,6 M5,1.5 H9.5 M5,1.5 Q5,7 4,10 M5.5,4.5 H9 Q8,8 5.5,10 M6,5.5 L9.5,10" stroke="#333" stroke-width="1.4" fill="none" vector-effect="non-scaling-stroke" stroke-linecap="round" stroke-linejoin="round"/>
<path transform="translate(904.40,366.00) scale(1.360,1.300)" d="M5,0.5 V9.5 M5,4.5 H8.5 M0.5,9.5 H9.5" stroke="#333" stroke-width="1.4" fill="none" vector-effect="non-scaling-stroke" stroke-linecap="round" stroke-linejoin="round"/>
<path transform="translate(921.50,366.00) scale(1.150,1.300)" d="M1,1.5 H9 Q8.5,7 2.5,10" stroke="#333" stroke-width="1.4" fill="none" vector-effect="non-scaling-stroke" stroke-linecap="round" stroke-linejoin="round"/>
<path transform="translate(932.00,366.00) scale(0.400,0.455)" d="M5,3 m-2.5,0 a2.5,2.5 0 1,0 5,0 a2.5,2.5 0 1,0 -5,0" stroke="#333" stroke-width="1.4" fill="none" vector-effect="non-scaling-stroke" stroke-linecap="round" stroke-linejoin="round"/>
<path transform="translate(937.80,366.00) scale(1.120,1.300)" d="M2,1 V6 M7.5,1 V5 Q7.5,9 3,10" stroke="#333" stroke-width="1.4" fill="none" vector-effect="non-scaling-stroke" stroke-linecap="round" stroke-linejoin="round"/>
<path transform="translate(951.50,366.00) scale(1.350,1.300)" d="M1.5,1.5 L4,3.5 M1,9.5 Q6.5,8 9.5,1.5" stroke="#333" stroke-width="1.4" fill="none" vector-effect="non-scaling-stroke" stroke-linecap="round" stroke-linejoin="round"/>
<path transform="translate(968.60,366.00) scale(1.280,1.300)" d="M3.5,0 V10 M3.5,4 L8.5,6.5" stroke="#333" stroke-width="1.4" fill="none" vector-effect="non-scaling-stroke" stroke-linecap="round" stroke-linejoin="round"/>
<path transform="translate(984.00,366.00) scale(1.540,1.300)" d="M2.5,0 L0.5,4 M1.5,2.5 V10 M3.5,3.5 H9.5 M6.5,0.5 V9.5 M4,9.5 H9" stroke="#333" stroke-width="1.4" fill="none" vector-effect="non-scaling-stroke" stroke-linecap="round" stroke-linejoin="round"/>
<path transform="translate(1002.00,366.00) scale(1.200,1.300)" d="M5,0.5 V9.5 M5,4.5 H8.5 M0.5,9.5 H9.5" stroke="#333" stroke-width="1.4" fill="none" vector-effect="non-scaling-stroke" stroke-linecap="round" stroke-linejoin="round"/>
<path transform="translate(1020.00,366.00) scale(1.600,1.300)" d="M1.5,1 Q0.5,6 2,9 M4,3.5 H8.5 M6.8,1 V6 Q6.8,10 4,10 M8,0 L8.7,1.5 M9.3,0 L10,1.5" stroke="#333" stroke-width="1.4" fill="none" vector-effect="non-scaling-stroke" stroke-linecap="round" stroke-linejoin="round"/>
</svg></body></html>
